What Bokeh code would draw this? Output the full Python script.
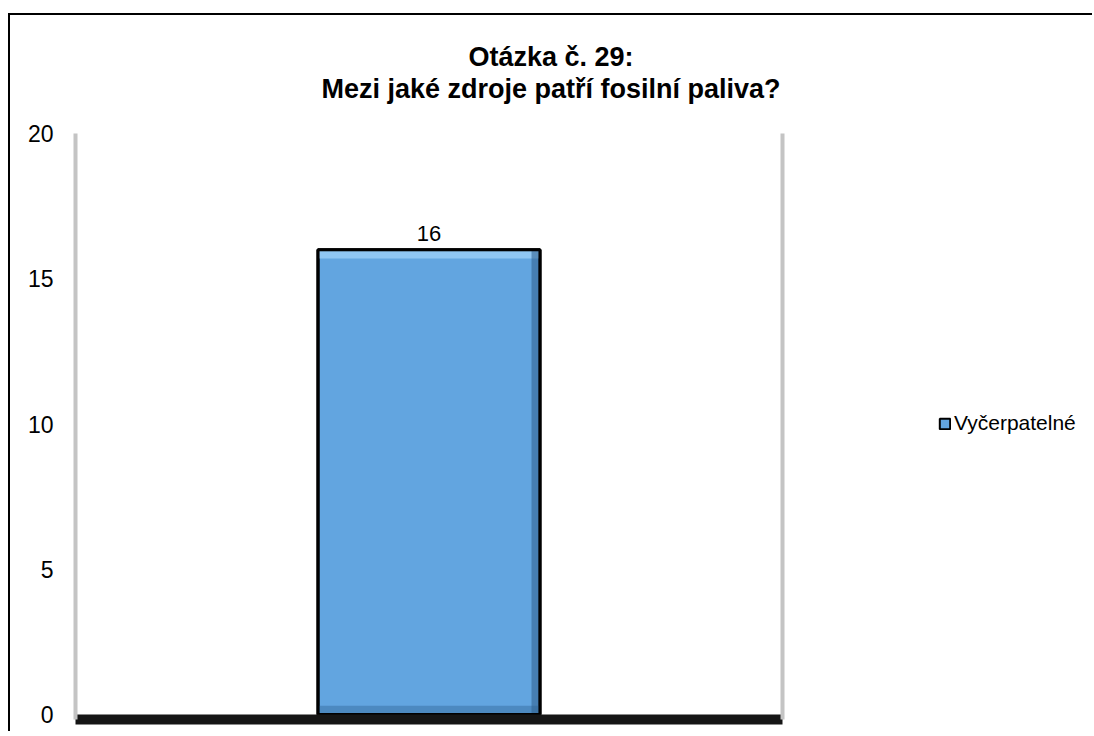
from bokeh.plotting import figure
from bokeh.layouts import column, row
from bokeh.models import (ColumnDataSource, FactorRange, Range1d, LinearAxis, Div,
                          FixedTicker, Legend, LegendItem, LabelSet)
from bokeh.transform import dodge
from bokeh.core.properties import value
from bokeh.embed import file_html
from bokeh.resources import INLINE

# ---- data ----
categories = ["Vyčerpatelné"]
series_name = "Vyčerpatelné"
values = [16]
value_labels = ["16"]
y_ticks = [0, 5, 10, 15, 20]
title_line1 = "Otázka č. 29:"
title_line2 = "Mezi jaké zdroje patří fosilní paliva?"

FONT = "Liberation Sans"
BAR_W = 0.314
BEVEL = 0.3
BAR_FILL = "#62a5e0"

src = ColumnDataSource(dict(cat=categories, val=values, lab=value_labels,
                            top_band=[v - BEVEL for v in values],
                            bot_band=[BEVEL for v in values],
                            zero=[0 for v in values]))

# ---- title block ----
title_div = Div(
    text=('<div style="width:1082px;padding-top:26px;text-align:center;'
          'font-family:\'Liberation Sans\',Arial,sans-serif;font-size:27px;'
          'font-weight:bold;line-height:32px;color:black;">'
          f'{title_line1}<br>{title_line2}</div>'),
    width=1082, height=100)
title_div.margin = 0

# ---- main chart ----
p = figure(width=776, height=616, output_backend="svg", toolbar_location=None,
           x_range=FactorRange(factors=categories), y_range=Range1d(-0.17, 20),
           min_border_left=65, min_border_right=4, min_border_top=18,
           min_border_bottom=12, x_axis_location=None, y_axis_location=None,
           tools="")
p.margin = 0
p.outline_line_color = None
p.xgrid.visible = False
p.ygrid.visible = False
p.background_fill_color = "white"
p.border_fill_color = "white"

# bar
r = p.vbar(x="cat", top="val", width=BAR_W, source=src, fill_color=BAR_FILL,
           line_color="black", line_width=3)
# bevel shading
p.vbar(x="cat", top="val", bottom="top_band", width=BAR_W, source=src,
       fill_color="#9fd2f8", fill_alpha=0.75, line_color=None)
p.vbar(x="cat", top="bot_band", bottom="zero", width=BAR_W, source=src,
       fill_color="#3b72a6", fill_alpha=0.55, line_color=None)
p.vbar(x=dodge("cat", BAR_W / 2 - 0.006, range=p.x_range), top="val", bottom="zero",
       width=0.012, source=src, fill_color="#2f5f8c", fill_alpha=0.55, line_color=None)
p.vbar(x="cat", top="val", width=BAR_W, source=src, fill_color=None,
       line_color="black", line_width=3)

# value label
labels = LabelSet(x="cat", y="val", text="lab", source=src, y_offset=9,
                  text_align="center", text_baseline="bottom",
                  text_font=value(FONT), text_font_size=value("22px"), text_color="black")
p.add_layout(labels)

# y axis (left) with grey shadow line
yax = LinearAxis(ticker=FixedTicker(ticks=y_ticks))
yax.axis_line_color = "#c4c4c4"
yax.axis_line_width = 4
yax.major_tick_line_color = None
yax.minor_tick_line_color = None
yax.major_tick_in = 0
yax.major_tick_out = 0
yax.major_label_standoff = 22
yax.major_label_text_font = FONT
yax.major_label_text_font_size = "23px"
yax.major_label_text_color = "black"
p.add_layout(yax, "left")

# x axis (below) drawn as dark floor
xax = LinearAxis(ticker=FixedTicker(ticks=[]))
xax.axis_line_color = "#151515"
xax.axis_line_width = 10
xax.major_tick_line_color = None
xax.minor_tick_line_color = None
xax.major_tick_in = 0
xax.major_tick_out = 0
xax.major_label_standoff = 0
p.add_layout(xax, "below")

# right shadow
rax = LinearAxis(ticker=FixedTicker(ticks=[]))
rax.axis_line_color = "#c4c4c4"
rax.axis_line_width = 4
rax.major_tick_line_color = None
rax.minor_tick_line_color = None
rax.major_label_standoff = 0
p.add_layout(rax, "right")

# ---- legend area (separate small figure) ----
lg = figure(width=306, height=616, output_backend="svg", toolbar_location=None,
            x_range=FactorRange(factors=categories), y_range=Range1d(100, 120),
            min_border=0, x_axis_location=None, y_axis_location=None, tools="")
lg.margin = 0
lg.outline_line_color = None
lg.grid.visible = False
lg.background_fill_color = "white"
lg.border_fill_color = "white"
r2 = lg.vbar(x="cat", top="val", width=BAR_W, source=src, fill_color=BAR_FILL,
             line_color="black", line_width=2)
r2.visible = False

legend = Legend(items=[LegendItem(label=series_name, renderers=[r2])],
                location=(152, 284), orientation="vertical",
                glyph_width=13, glyph_height=13, label_standoff=3,
                label_height=20, label_text_font=FONT, label_text_font_size="21px",
                label_text_color="black", padding=0, margin=0, spacing=0,
                border_line_color=None, background_fill_alpha=0,
                inactive_fill_alpha=0)
lg.add_layout(legend, "center")

page = column(title_div, row(p, lg, spacing=0), spacing=0)
page.margin = (13, 0, 0, 8)
page.styles = {"border-top": "2px solid black", "border-left": "2px solid black",
               "background-color": "white"}

open("out.html", "w").write(file_html(page, INLINE))
